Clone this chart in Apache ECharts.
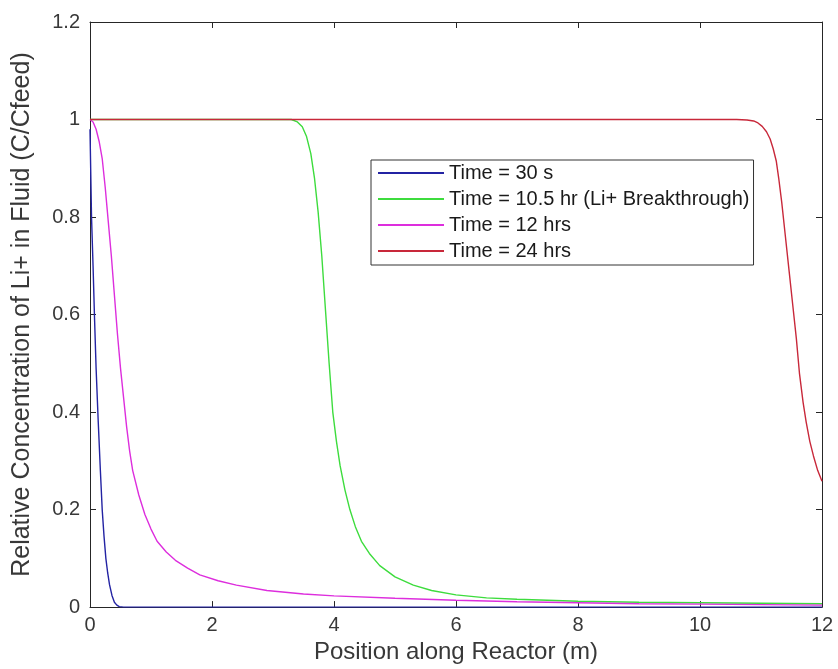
<!DOCTYPE html>
<html>
<head>
<meta charset="utf-8">
<script src="https://cdn.jsdelivr.net/npm/echarts@6/dist/echarts.min.js"></script>
<style>
  html, body { margin: 0; padding: 0; background: #fff; }
  #chart { width: 838px; height: 669px; }
</style>
</head>
<body>
<div id="chart"></div>
<script>
// position along reactor (m) and relative concentration C/Cfeed
const blueX = [0, 0.025, 0.05, 0.075, 0.1, 0.135, 0.17, 0.2, 0.23, 0.26, 0.29, 0.32, 0.36, 0.4, 0.44, 0.48, 0.55, 1, 12];
const blueY = [0.98, 0.8, 0.7, 0.59, 0.49, 0.38, 0.28, 0.2, 0.145, 0.1, 0.07, 0.046, 0.024, 0.01, 0.004, 0.001, 0, 0, 0];

const greenX = [0, 3.3, 3.4, 3.48, 3.55, 3.62, 3.68, 3.74, 3.8, 3.86, 3.92, 3.98, 4.04, 4.1, 4.18, 4.26, 4.35, 4.45, 4.58, 4.75, 5.0, 5.3, 5.6, 6, 6.5, 7, 8, 9, 10, 11, 12];
const greenY = [1, 1, 0.995, 0.985, 0.965, 0.93, 0.88, 0.81, 0.72, 0.61, 0.5, 0.4, 0.34, 0.29, 0.24, 0.2, 0.165, 0.135, 0.11, 0.085, 0.062, 0.045, 0.034, 0.025, 0.019, 0.016, 0.012, 0.01, 0.009, 0.008, 0.007];

const magentaX = [0, 0.05, 0.1, 0.15, 0.2, 0.25, 0.3, 0.35, 0.4, 0.45, 0.5, 0.55, 0.6, 0.65, 0.7, 0.8, 0.9, 1.0, 1.1, 1.25, 1.4, 1.6, 1.8, 2.1, 2.4, 2.9, 3.5, 4, 5, 6, 7, 8, 9, 10, 11, 12];
const magentaY = [1, 0.995, 0.98, 0.955, 0.92, 0.86, 0.79, 0.72, 0.64, 0.56, 0.49, 0.43, 0.37, 0.32, 0.28, 0.23, 0.19, 0.16, 0.135, 0.113, 0.096, 0.08, 0.066, 0.054, 0.045, 0.034, 0.027, 0.023, 0.018, 0.014, 0.011, 0.009, 0.007, 0.006, 0.005, 0.004];

const redX = [0, 10.6, 10.77, 10.88, 10.95, 11.02, 11.09, 11.15, 11.2, 11.25, 11.29, 11.34, 11.4, 11.46, 11.52, 11.58, 11.63, 11.69, 11.74, 11.8, 11.86, 11.93, 12];
const redY = [1, 1, 0.999, 0.997, 0.993, 0.986, 0.975, 0.96, 0.94, 0.915, 0.88, 0.83, 0.76, 0.69, 0.62, 0.55, 0.48, 0.42, 0.38, 0.34, 0.31, 0.28, 0.258];

const seriesNames = ['Time = 30 s', 'Time = 10.5 hr (Li+ Breakthrough)', 'Time = 12 hrs', 'Time = 24 hrs'];

function pairs(xs, ys) {
  return xs.map((x, i) => [x, ys[i]]);
}

const font = "'Liberation Sans', Arial, sans-serif";
const axisColor = '#262626';
const textColor = '#383838';

let myChart = echarts.init(document.getElementById('chart'));

// matlab style box: axis on all four sides, ticks pointing inside
function boxAxis(extra) {
  return Object.assign({
    type: 'value',
    axisLine: { show: true, onZero: false, lineStyle: { color: axisColor, width: 1 } },
    axisTick: { show: true, inside: true, length: 6, lineStyle: { color: axisColor } },
    splitLine: { show: false }
  }, extra);
}

function line(name, data, color) {
  return {
    name: name,
    type: 'line',
    data: data,
    symbol: 'none',
    smooth: false,
    lineStyle: { color: color, width: 1.4 },
    itemStyle: { color: color }
  };
}

let option = {
  backgroundColor: '#fff',
  animation: false,
  grid: { left: 90, right: 16, top: 22, bottom: 47 },
  legend: {
    orient: 'vertical',
    left: 371,
    top: 160,
    padding: [3, 4, 4, 6],
    itemGap: 6,
    itemWidth: 66,
    itemHeight: 14,
    backgroundColor: '#fff',
    borderColor: '#333',
    borderWidth: 1,
    itemStyle: { opacity: 0 },
    textStyle: { fontFamily: font, fontSize: 20, color: '#1a1a1a', lineHeight: 20 },
    data: seriesNames
  },
  xAxis: [
    boxAxis({
      min: 0, max: 12, interval: 2,
      name: 'Position along Reactor (m)',
      nameLocation: 'middle',
      nameGap: 20,
      nameTextStyle: { fontFamily: font, fontSize: 24, color: textColor, verticalAlign: 'top' },
      axisLabel: { fontFamily: font, fontSize: 20, color: textColor, margin: 8 }
    }),
    boxAxis({
      min: 0, max: 12, interval: 2, position: 'top',
      axisLabel: { show: false }
    })
  ],
  yAxis: [
    boxAxis({
      min: 0, max: 1.2, interval: 0.2,
      name: 'Relative Concentration of Li+ in Fluid (C/Cfeed)',
      nameLocation: 'middle',
      nameGap: 55,
      nameTextStyle: { fontFamily: font, fontSize: 25, color: textColor },
      axisLabel: { fontFamily: font, fontSize: 20, color: textColor, margin: 10 }
    }),
    boxAxis({
      min: 0, max: 1.2, interval: 0.2, position: 'right',
      axisLabel: { show: false }
    })
  ],
  series: [
    line(seriesNames[0], pairs(blueX, blueY), '#2323a3'),
    line(seriesNames[1], pairs(greenX, greenY), '#3ddc3d'),
    line(seriesNames[2], pairs(magentaX, magentaY), '#dd2edd'),
    line(seriesNames[3], pairs(redX, redY), '#c8283a')
  ]
};

option && myChart.setOption(option);
</script>
</body>
</html>
